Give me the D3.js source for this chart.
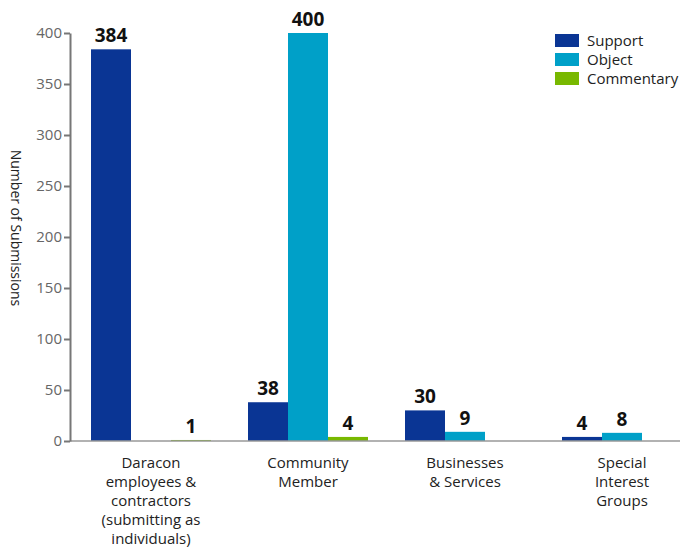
<!DOCTYPE html>
<html>
<head>
<meta charset="utf-8">
<script src="https://cdn.jsdelivr.net/npm/d3@7"></script>
<style>
  body { margin: 0; background: #fff; }
  svg { display: block; }
</style>
</head>
<body>
<svg id="chart" width="681" height="552"></svg>
<script>
// Submission counts by stakeholder group
const categories = [
  ["Daracon", "employees &", "contractors", "(submitting as", "individuals)"],
  ["Community", "Member"],
  ["Businesses", "& Services"],
  ["Special", "Interest", "Groups"]
];
const seriesNames = ["Support", "Object", "Commentary"];
const supportValues = [384, 38, 30, 4];
const objectValues = [null, 400, 9, 8];
const commentaryValues = [1, 4, null, null];
const seriesColors = ["#0a3594", "#00a0c8", "#78b800"];
const yTicks = [0, 50, 100, 150, 200, 250, 300, 350, 400];

const seriesValues = [supportValues, objectValues, commentaryValues];
const catKeys = categories.map(c => c.join(" "));

const svg = d3.select("#chart");
const plotLeft = 70, plotRight = 680, plotTop = 33, plotBottom = 441;

const y = d3.scaleLinear().domain([0, 400]).range([plotBottom, plotTop]);
const x0 = d3.scaleBand().domain(catKeys).range([70, 703])
  .paddingInner(37 / 157).paddingOuter(21 / 157);
const x1 = d3.scaleBand().domain(seriesNames).range([0, x0.bandwidth()]);

// Bars
const groups = svg.append("g").selectAll("g")
  .data(catKeys)
  .join("g")
  .attr("transform", d => `translate(${x0(d)},0)`);

groups.each(function (cat, ci) {
  const g = d3.select(this);
  const rows = seriesNames.map((s, si) => ({ s, si, v: seriesValues[si][ci] }))
    .filter(d => d.v != null);
  g.selectAll("rect").data(rows).join("rect")
    .attr("x", d => x1(d.s))
    .attr("width", x1.bandwidth())
    .attr("y", d => y(d.v))
    .attr("height", d => y(0) - y(d.v))
    .attr("fill", d => seriesColors[d.si]);
  g.selectAll("text").data(rows).join("text")
    .attr("x", d => x1(d.s) + x1.bandwidth() / 2)
    .attr("y", d => y(d.v) - 7)
    .attr("text-anchor", "middle")
    .attr("font-family", "'Open Sans', sans-serif")
    .attr("font-weight", "bold")
    .attr("font-size", 19)
    .attr("fill", "#111")
    .text(d => d.v);
});

// Baseline
svg.append("line")
  .attr("x1", plotLeft).attr("x2", plotRight)
  .attr("y1", y(0)).attr("y2", y(0))
  .attr("stroke", "#999").attr("stroke-width", 1.5);

// Y axis
const yAxis = svg.append("g")
  .attr("transform", `translate(${plotLeft},0)`)
  .call(d3.axisLeft(y).tickValues(yTicks).tickSize(6).tickPadding(2).tickSizeOuter(0));
yAxis.select(".domain").attr("stroke", "#777").attr("stroke-width", 2);
yAxis.selectAll(".tick line").attr("stroke", "#777").attr("stroke-width", 2);
yAxis.selectAll(".tick text")
  .attr("font-family", "'Open Sans', sans-serif")
  .attr("font-size", 15)
  .attr("fill", "#666");

// Y axis title
svg.append("text")
  .attr("transform", "translate(11,228) rotate(90)")
  .attr("text-anchor", "middle")
  .attr("font-family", "'Open Sans', sans-serif")
  .attr("font-size", 14)
  .attr("fill", "#222")
  .text("Number of Submissions");

// Category labels
categories.forEach((lines, i) => {
  const cx = x0(catKeys[i]) + x0.bandwidth() / 2;
  const t = svg.append("text")
    .attr("x", cx)
    .attr("y", 468)
    .attr("text-anchor", "middle")
    .attr("font-family", "'Open Sans', sans-serif")
    .attr("font-size", 15)
    .attr("fill", "#222");
  lines.forEach((ln, j) => {
    t.append("tspan")
      .attr("x", cx)
      .attr("dy", j === 0 ? 0 : 19)
      .text(ln);
  });
});

// Legend
const legend = svg.append("g").attr("transform", "translate(555,34)");
seriesNames.forEach((name, i) => {
  const row = legend.append("g").attr("transform", `translate(0,${i * 19})`);
  row.append("rect").attr("width", 24).attr("height", 13).attr("fill", seriesColors[i]);
  row.append("text")
    .attr("x", 32).attr("y", 12)
    .attr("font-family", "'Open Sans', sans-serif")
    .attr("font-size", 15)
    .attr("fill", "#222")
    .text(name);
});
</script>
</body>
</html>
